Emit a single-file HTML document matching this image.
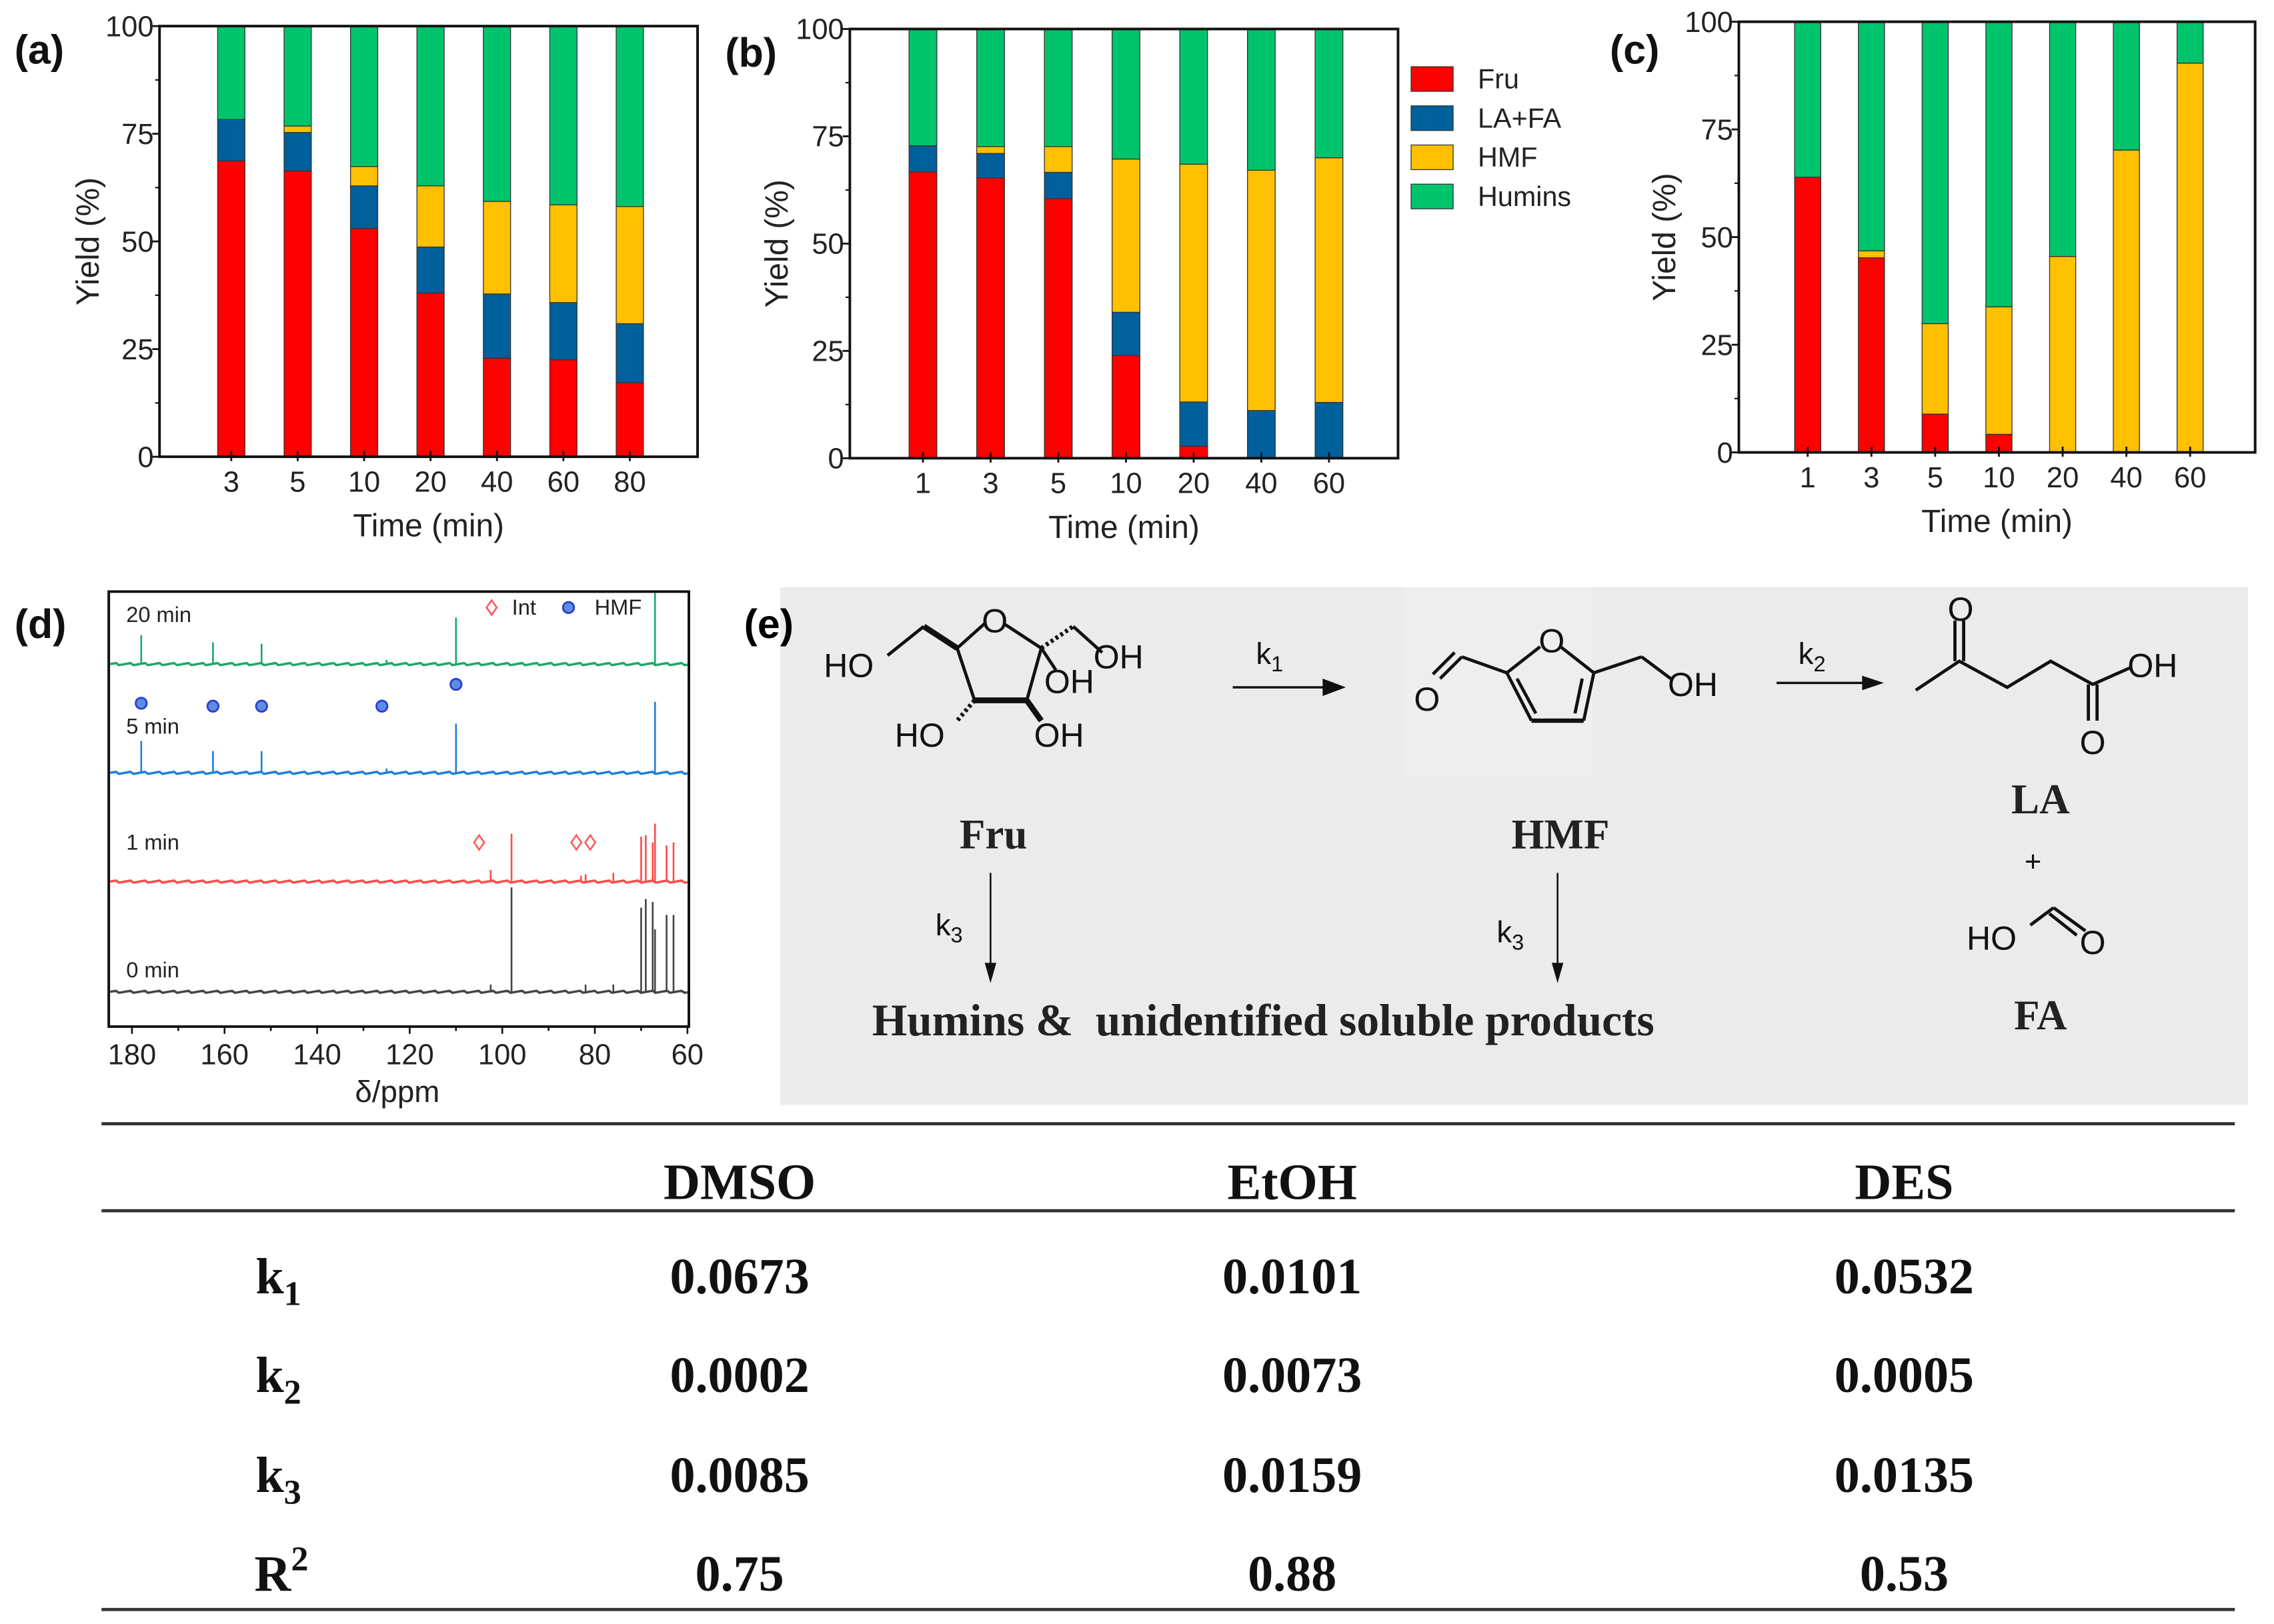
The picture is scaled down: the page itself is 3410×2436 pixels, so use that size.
<!DOCTYPE html>
<html><head><meta charset="utf-8"><style>
html,body{margin:0;padding:0;background:#fff;}
svg{display:block;}
text{font-family:"Liberation Sans",sans-serif;}
.serif{font-family:"Liberation Serif",serif;font-weight:bold;}
</style></head><body>
<svg id="fig" width="3410" height="2436" viewBox="0 0 1568 1120" preserveAspectRatio="none" xmlns="http://www.w3.org/2000/svg">
<rect x="0" y="0" width="1568" height="1120" fill="#fff"/>
<g id="charts"></g>
<g id="nmr"></g>
<!-- Panel e -->
<g>
<rect x="538" y="405" width="1012" height="357" fill="#ebebeb"/>
<rect x="968" y="405" width="130" height="131" fill="#eeeeee"/>
<text x="513" y="440" font-size="28" font-weight="bold">(e)</text>
<g stroke="#111" stroke-width="2.2" fill="none">
<line x1="679" y1="430" x2="660" y2="447"/><line x1="692" y1="430" x2="718" y2="447"/>
<line x1="660" y1="447" x2="672" y2="483"/><line x1="672" y1="483" x2="708" y2="483" stroke-width="4"/>
<line x1="708" y1="483" x2="718" y2="447"/>
<line x1="612" y1="452" x2="637" y2="432"/><line x1="637" y1="432" x2="660" y2="447" stroke-width="4"/>
<line x1="718" y1="447" x2="740" y2="432" stroke-dasharray="2 2" stroke-width="3"/><line x1="740" y1="432" x2="760" y2="450"/>
<line x1="718" y1="447" x2="728" y2="462"/>
<line x1="672" y1="483" x2="660" y2="497" stroke-dasharray="2 2" stroke-width="3"/>
<line x1="708" y1="483" x2="718" y2="497" stroke-width="4"/>
<line x1="993" y1="468" x2="1008" y2="453"/><line x1="988" y1="465" x2="1003" y2="450"/>
<line x1="1008" y1="453" x2="1039" y2="464"/>
<line x1="1062" y1="446" x2="1039" y2="464"/><line x1="1076" y1="446" x2="1099" y2="464"/>
<line x1="1039" y1="464" x2="1056" y2="497"/><line x1="1046" y1="468" x2="1059" y2="492"/>
<line x1="1056" y1="497" x2="1092" y2="497" stroke-width="3"/>
<line x1="1092" y1="497" x2="1099" y2="464"/><line x1="1086" y1="492" x2="1091" y2="468"/>
<line x1="1099" y1="464" x2="1132" y2="453"/><line x1="1132" y1="453" x2="1152" y2="468"/>
<polyline points="1321,476 1351,456 1384,474 1414,456 1443,472 1470,460"/>
<line x1="1348" y1="456" x2="1348" y2="428"/><line x1="1354" y1="456" x2="1354" y2="428"/>
<line x1="1440" y1="472" x2="1440" y2="497"/><line x1="1446" y1="472" x2="1446" y2="497"/>
<line x1="1400" y1="638" x2="1416" y2="626"/><line x1="1416" y1="626" x2="1438" y2="642"/><line x1="1413" y1="630" x2="1432" y2="645"/>
<line x1="850" y1="474" x2="915" y2="474" stroke-width="1.6"/>
<line x1="1225" y1="471" x2="1287" y2="471" stroke-width="1.6"/>
<line x1="683" y1="602" x2="683" y2="668" stroke-width="1.2"/>
<line x1="1074" y1="602" x2="1074" y2="668" stroke-width="1.2"/>
</g>
<g fill="#111">
<polygon points="928,474 912,468 912,480"/><polygon points="1299,471 1284,466 1284,476"/>
<polygon points="683,678 679,664 687,664"/><polygon points="1074,678 1070,664 1078,664"/>
</g>
<g font-size="23" fill="#111">
<text x="568" y="467">HO</text><text x="754" y="461">OH</text><text x="720" y="478">OH</text>
<text x="617" y="515">HO</text><text x="713" y="515">OH</text>
<text x="677" y="436">O</text>
<text x="1061" y="450">O</text><text x="975" y="490">O</text><text x="1150" y="480">OH</text>
<text x="1343" y="428">O</text><text x="1467" y="467">OH</text><text x="1434" y="520">O</text>
<text x="1356" y="655">HO</text><text x="1434" y="658">O</text>
<text x="1396" y="601" font-size="20">+</text>
<text x="866" y="458" font-size="21">k<tspan font-size="15" dy="5">1</tspan></text>
<text x="1240" y="458" font-size="21">k<tspan font-size="15" dy="5">2</tspan></text>
<text x="645" y="645" font-size="21">k<tspan font-size="15" dy="5">3</tspan></text>
<text x="1032" y="650" font-size="21">k<tspan font-size="15" dy="5">3</tspan></text>
</g>
<g class="serif" font-size="29" fill="#222" text-anchor="middle">
<text x="685" y="585" class="serif">Fru</text>
<text x="1076" y="585" class="serif">HMF</text>
<text x="1407" y="561" class="serif">LA</text>
<text x="1407" y="710" class="serif">FA</text>
<text x="871" y="714" font-size="31" class="serif" xml:space="preserve">Humins &amp;  unidentified soluble products</text>
</g>
</g>
<!-- Table -->
<g>
<line x1="70" y1="775" x2="1541" y2="775" stroke="#333" stroke-width="2.2"/>
<line x1="70" y1="835" x2="1541" y2="835" stroke="#333" stroke-width="2.2"/>
<line x1="70" y1="1110" x2="1541" y2="1110" stroke="#333" stroke-width="2.2"/>
<g class="serif" font-size="35" fill="#111" text-anchor="middle">
<text class="serif" x="510" y="827">DMSO</text><text class="serif" x="891" y="827">EtOH</text><text class="serif" x="1313" y="827">DES</text>
<text class="serif" x="192" y="892">k<tspan font-size="24" dy="8">1</tspan></text>
<text class="serif" x="192" y="960">k<tspan font-size="24" dy="8">2</tspan></text>
<text class="serif" x="192" y="1029">k<tspan font-size="24" dy="8">3</tspan></text>
<text class="serif" x="194" y="1097">R<tspan font-size="24" dy="-14">2</tspan></text>
<text class="serif" x="510" y="892">0.0673</text><text class="serif" x="891" y="892">0.0101</text><text class="serif" x="1313" y="892">0.0532</text>
<text class="serif" x="510" y="960">0.0002</text><text class="serif" x="891" y="960">0.0073</text><text class="serif" x="1313" y="960">0.0005</text>
<text class="serif" x="510" y="1029">0.0085</text><text class="serif" x="891" y="1029">0.0159</text><text class="serif" x="1313" y="1029">0.0135</text>
<text class="serif" x="510" y="1097">0.75</text><text class="serif" x="891" y="1097">0.88</text><text class="serif" x="1313" y="1097">0.53</text>
</g>
</g>
</svg>
<script>
const catsA=['3','5','10','20','40','60','80'];
const fruA=[68.7,66.4,53.0,38.0,22.9,22.5,17.2];
const laA=[9.6,8.9,9.9,10.7,14.9,13.3,13.7];
const hmfA=[0,1.5,4.5,14.2,21.5,22.7,27.2];
const huminsA=[21.7,23.2,32.6,37.1,40.7,41.5,41.9];
const catsB=['1','3','5','10','20','40','60'];
const fruB=[66.7,65.3,60.5,23.9,2.8,0,0];
const laB=[6.1,5.7,6.1,10.1,10.3,11.1,13.0];
const hmfB=[0,1.6,6.0,35.7,55.4,56.0,57.0];
const huminsB=[27.2,27.4,27.4,30.3,31.5,32.9,30.0];
const catsC=['1','3','5','10','20','40','60'];
const fruC=[63.9,45.2,8.9,4.2,0,0,0];
const laC=[0,0,0,0,0,0,0];
const hmfC=[0,1.6,21.0,29.6,45.5,70.2,90.4];
const huminsC=[36.1,53.2,70.1,66.2,54.5,29.8,9.6];
const yTicks=[0,25,50,75,100];
const seriesNames=['Fru','LA+FA','HMF','Humins'];
const seriesColors=['#ff0000','#00609c','#ffc000','#00c46c'];
const nmrXTicks=[180,160,140,120,100,80,60];
const spec20ppm=[178,162.5,152,125,110,67];
const spec20int=[20,15,14,3,32,50];
const spec5ppm=[178,162.5,152,125,110,67];
const spec5int=[22,15,15,3,34,49];
const spec1ppm=[102.5,98,83,82,76,70,69,67.5,67,64.5,63];
const spec1int=[8,33,4,5,6,31,32,27,40,25,27];
const spec0ppm=[102.5,98,82,76,70,69,67.5,67,64.5,63];
const spec0int=[5,72,5,5,58,64,62,43,53,53];
const hmfMarkPpm=[178,162.5,152,126,110];
const hmfMarkY=[485,487,487,487,472];
const intMarkPpm=[105,84,81];

const NS='http://www.w3.org/2000/svg';
function mk(tag,attrs,parent){const e=document.createElementNS(NS,tag);for(const k in attrs)e.setAttribute(k,attrs[k]);parent.appendChild(e);return e;}

function barChart(p){
  const g=mk('g',{},document.getElementById('charts'));
  
  
  const W=p.right-p.left, step=W/8.1;
  const xc=i=>p.left+(i+1.08)*step;
  const yv=v=>p.bottom-(v/100)*(p.bottom-p.top);
  const bw=step*0.41;
  p.cats.forEach((c,i)=>{
    let acc=0;
    p.series.forEach((arr,s)=>{
      const v=arr[i]; if(v<=0) return;
      const r=mk('rect',{x:xc(i)-bw/2,y:yv(acc+v),width:bw,height:yv(acc)-yv(acc+v),fill:seriesColors[s],stroke:'#333','stroke-width':0.6},g);
      
      
      acc+=v;
    });
    mk('line',{x1:xc(i),x2:xc(i),y1:p.bottom-4,y2:p.bottom+3,stroke:'#111','stroke-width':1.3},g);
    const t=mk('text',{x:xc(i),y:p.bottom+24,'font-size':20,'text-anchor':'middle',fill:'#222'},g);
    t.textContent=c;
    
    
  });
  mk('rect',{x:p.left,y:p.top,width:W,height:p.bottom-p.top,fill:'none',stroke:'#111','stroke-width':1.8},g);
  yTicks.forEach(v=>{
    mk('line',{x1:p.left-5,x2:p.left,y1:yv(v),y2:yv(v),stroke:'#111','stroke-width':1.3},g);
    const t=mk('text',{x:p.left-4,y:yv(v)+7,'font-size':20,'text-anchor':'end',fill:'#222'},g);
    t.textContent=v;
    
    
  });
  [12.5,37.5,62.5,87.5].forEach(v=>mk('line',{x1:p.left-3,x2:p.left,y1:yv(v),y2:yv(v),stroke:'#111','stroke-width':1},g));
  const yl=mk('text',{x:p.ylx,y:(p.top+p.bottom)/2,'font-size':22,'text-anchor':'middle',fill:'#222',transform:'rotate(-90 '+p.ylx+' '+(p.top+p.bottom)/2+')'},g);
  yl.textContent='Yield (%)';
  
  
  const xl=mk('text',{x:(p.left+p.right)/2,y:p.bottom+55,'font-size':22,'text-anchor':'middle',fill:'#222'},g);
  xl.textContent='Time (min)';
  
  
  const pl=mk('text',{x:p.labx,y:p.laby,'font-size':28,'font-weight':'bold',fill:'#111'},g);
  pl.textContent='('+p.id+')';
  
  
  return g;
}
barChart({id:'a',left:110,right:481,top:18,bottom:315,cats:catsA,series:[fruA,laA,hmfA,huminsA],ylx:68,labx:10,laby:44});
const gb=barChart({id:'b',left:586,right:964,top:20,bottom:316,cats:catsB,series:[fruB,laB,hmfB,huminsB],ylx:543,labx:500,laby:46});
barChart({id:'c',left:1199,right:1555,top:15,bottom:312,cats:catsC,series:[fruC,laC,hmfC,huminsC],ylx:1155,labx:1110,laby:44});
const lg=mk('g',{},gb);


seriesNames.forEach((n,i)=>{
  const y=46+i*27;
  mk('rect',{x:973,y:y,width:29,height:17,fill:seriesColors[i],stroke:'#333','stroke-width':0.6},lg);
  const t=mk('text',{x:1019,y:y+15,'font-size':19,fill:'#222'},lg);
  t.textContent=n;
  
  
});

(function(){
  const g=document.getElementById('nmr');
  
  
  const L=75,R=475,T=408,B=708;
  const xp=ppm=>91+(180-ppm)*(383/120);
  const specs=[[spec20ppm,spec20int,458,'#1aa86a','20 min',424],[spec5ppm,spec5int,533,'#1f7ed8','5 min',501],[spec1ppm,spec1int,608,'#ff4a4a','1 min',581],[spec0ppm,spec0int,684,'#444','0 min',669]];
  specs.forEach(s=>{
    const [pp,ii,base,col,lab,ly]=s;
    let d='M'+(L+1)+' '+base;
    for(let x=L+1;x<=R-1;x+=2){d+=' L'+x+' '+(base+((x*7)%5-2)*0.35);}
    const bl=mk('path',{d:d,stroke:col,'stroke-width':1.6,fill:'none'},g);
    
    
    pp.forEach((p,i)=>{
      const top=Math.max(T+1,base-ii[i]);
      const l=mk('line',{x1:xp(p),x2:xp(p),y1:base,y2:top,stroke:col,'stroke-width':1.2},g);
      
      
    });
    const t=mk('text',{x:87,y:ly+5,'font-size':15,fill:'#222'},g);
    t.textContent=lab;
    
    
  });
  hmfMarkPpm.forEach((p,i)=>{
    const c=mk('circle',{cx:xp(p),cy:hmfMarkY[i],r:3.8,fill:'#5d8de0',stroke:'#2a3fd0','stroke-width':1.3},g);
    
    
  });
  intMarkPpm.forEach(p=>{
    const x=xp(p),y=581;
    const d=mk('polygon',{points:(x)+','+(y-5)+' '+(x+3.5)+','+y+' '+x+','+(y+5)+' '+(x-3.5)+','+y,fill:'none',stroke:'#ff5a5a','stroke-width':1.2},g);
    
    
  });
  mk('rect',{x:L,y:T,width:R-L,height:B-T,fill:'none',stroke:'#111','stroke-width':1.8},g);
  for(let v=60;v<=180;v+=10){
    const major=(v%20===0);
    mk('line',{x1:xp(v),x2:xp(v),y1:B,y2:B+(major?5:3),stroke:'#111','stroke-width':1.2},g);
  }
  nmrXTicks.forEach(v=>{
    const t=mk('text',{x:xp(v),y:734,'font-size':20,'text-anchor':'middle',fill:'#222'},g);
    t.textContent=v;
    
    
  });
  const xt=mk('text',{x:274,y:760,'font-size':21,'text-anchor':'middle',fill:'#222'},g);
  xt.textContent='δ/ppm';
  
  
  mk('polygon',{points:'339,414 342.5,419 339,424 335.5,419',fill:'none',stroke:'#ff5a5a','stroke-width':1.2},g);
  const t1=mk('text',{x:353,y:424,'font-size':15,fill:'#222'},g);t1.textContent='Int';
  
  
  mk('circle',{cx:392,cy:419,r:3.8,fill:'#5d8de0',stroke:'#2a3fd0','stroke-width':1.3},g);
  const t2=mk('text',{x:410,y:424,'font-size':15,fill:'#222'},g);t2.textContent='HMF';
  
  
  const pl=mk('text',{x:10,y:440,'font-size':28,'font-weight':'bold',fill:'#111'},g);
  pl.textContent='(d)';
  
  
})();
</script>
</body></html>
